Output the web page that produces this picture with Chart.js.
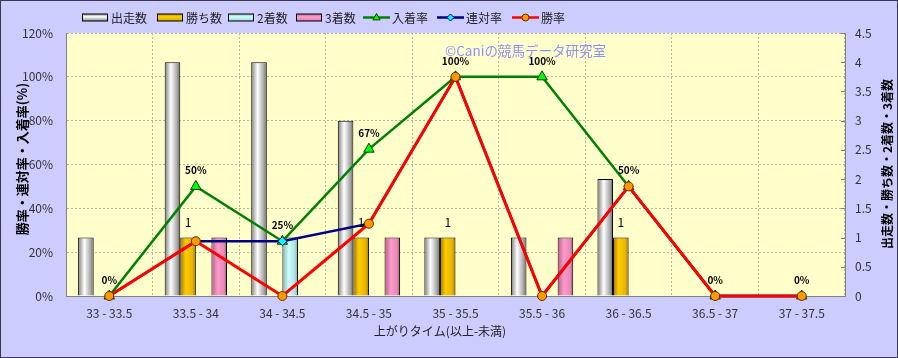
<!DOCTYPE html>
<html><head><meta charset="utf-8">
<script src="https://cdn.jsdelivr.net/npm/chart.js@4/dist/chart.umd.min.js"></script>
<style>html,body{margin:0;padding:0;background:#ccccff;overflow:hidden}canvas{display:block}</style>
</head><body>
<canvas id="c" width="898" height="358"></canvas>
<script>
// ---- data ----
const categories = ['33 - 33.5','33.5 - 34','34 - 34.5','34.5 - 35','35 - 35.5','35.5 - 36','36 - 36.5','36.5 - 37','37 - 37.5'];
const runs    = [1, 4, 4, 3, 1, 1, 2, 0, 0];
const wins    = [0, 1, 0, 1, 1, 0, 1, 0, 0];
const seconds = [0, 0, 1, 0, 0, 0, 0, 0, 0];
const thirds  = [0, 1, 0, 1, 0, 1, 0, 0, 0];
const placeRate    = [0, 50, 25, 67, 100, 100, 50, 0, 0];
const quinellaRate = [0, 25, 25, 33, 100, 0, 50, 0, 0];
const winRate      = [0, 25, 0, 33, 100, 0, 50, 0, 0];
const leftTicks  = {min: 0, max: 120, step: 20};
const rightTicks = {min: 0, max: 4.5, step: 0.5};

const FONT = "'Noto Sans CJK JP', 'DejaVu Sans', sans-serif";
const CAT_PCT = 0.72;
const NBARS = 4;

const barStops = [
  [[0,'#7a7a7a'],[0.4,'#ffffff'],[0.8,'#a8a8a8'],[1,'#666666']],
  [[0,'#a07400'],[0.35,'#ffcc00'],[0.8,'#e6b400'],[1,'#966a00']],
  [[0,'#88b0b0'],[0.4,'#ccffff'],[0.8,'#b0e0e0'],[1,'#80a0a0']],
  [[0,'#b06088'],[0.4,'#ff99cc'],[0.8,'#e88ab8'],[1,'#a05878']]
];

function barFill(k) {
  return (c) => {
    const chart = c.chart;
    const xs = chart.scales && chart.scales.x;
    const plain = barStops[k][1][1];
    if (c.type !== 'data' || !xs) return plain;
    const center = xs.getPixelForValue(c.dataIndex);
    const catW = (xs.right - xs.left) / categories.length;
    if (!isFinite(center) || !isFinite(catW) || catW <= 0) return plain;
    const groupW = catW * CAT_PCT;
    const bw = groupW / NBARS;
    const left = center - groupW / 2 + k * bw;
    if (!isFinite(left) || !isFinite(bw)) return plain;
    const g = chart.ctx.createLinearGradient(left, 0, left + bw, 0);
    barStops[k].forEach(s => g.addColorStop(s[0], s[1]));
    return g;
  };
}

function drawMarker(ctx, style, x, y, r, fill, stroke) {
  ctx.save();
  ctx.fillStyle = fill; ctx.strokeStyle = stroke; ctx.lineWidth = 1;
  ctx.beginPath();
  if (style === 'triangle') {
    ctx.moveTo(x, y - r);
    ctx.lineTo(x + r * 0.9, y + r * 0.6);
    ctx.lineTo(x - r * 0.9, y + r * 0.6);
    ctx.closePath();
  } else if (style === 'rectRot') {
    ctx.moveTo(x, y - r); ctx.lineTo(x + r, y); ctx.lineTo(x, y + r); ctx.lineTo(x - r, y); ctx.closePath();
  } else {
    ctx.arc(x, y, r, 0, Math.PI * 2);
  }
  ctx.fill(); ctx.stroke();
  ctx.restore();
}

const legendDefs = [
  {label: '出走数', kind: 'bar', k: 0},
  {label: '勝ち数', kind: 'bar', k: 1},
  {label: '2着数', kind: 'bar', k: 2},
  {label: '3着数', kind: 'bar', k: 3},
  {label: '入着率', kind: 'line', color: '#008000', style: 'triangle', fill: '#00ff00', stroke: '#004000', r: 4},
  {label: '連対率', kind: 'line', color: '#000080', style: 'rectRot', fill: '#00ffff', stroke: '#000080', r: 3.5},
  {label: '勝率', kind: 'line', color: '#ff0000', style: 'circle', fill: '#ff9900', stroke: '#603000', r: 3.5}
];
const legendX = [82, 157, 228, 296, 363, 437, 512];

const decor = {
  id: 'decor',
  beforeDraw(chart) {
    const {ctx, chartArea: a, width, height} = chart;
    ctx.save();
    ctx.fillStyle = '#ccccff'; ctx.fillRect(0, 0, width, height);
    ctx.fillStyle = '#ffffcc'; ctx.fillRect(a.left, a.top, a.right - a.left, a.bottom - a.top);
    ctx.restore();
  },
  beforeDatasetsDraw(chart) {
    const ctx = chart.ctx;
    ctx.save();
    ctx.font = '13.5px ' + FONT;
    ctx.fillStyle = '#8f8fff';
    ctx.textAlign = 'left'; ctx.textBaseline = 'middle';
    ctx.fillText('©Caniの競馬データ研究室', 445, 51);
    ctx.restore();
  },
  afterDatasetsDraw(chart) {
    const ctx = chart.ctx;
    ctx.save();
    ctx.fillStyle = '#000';
    ctx.textAlign = 'center'; ctx.textBaseline = 'middle';
    ctx.font = 'bold 10px ' + FONT;
    const pm = chart.getDatasetMeta(4);
    pm.data.forEach((el, i) => {
      ctx.fillText(placeRate[i] + '%', el.x, el.y - 16);
    });
    ctx.font = '12px ' + FONT;
    const wm = chart.getDatasetMeta(1);
    wm.data.forEach((el, i) => {
      if (wins[i] > 0) ctx.fillText(String(wins[i]), el.x, el.y - 15);
    });
    ctx.restore();
  },
  afterDraw(chart) {
    const {ctx, width, height} = chart;
    ctx.save();
    // small inward tick marks on the right axis
    const r = chart.scales.y1;
    ctx.strokeStyle = '#808080'; ctx.lineWidth = 1;
    r.ticks.forEach(t => {
      const py = Math.round(r.getPixelForValue(t.value)) + 0.5;
      ctx.beginPath(); ctx.moveTo(r.left - 4, py); ctx.lineTo(r.left, py); ctx.stroke();
    });
    ctx.font = '12px ' + FONT;
    ctx.textBaseline = 'middle'; ctx.textAlign = 'left';
    const ly = 17.5;
    legendDefs.forEach((d, i) => {
      const x = legendX[i];
      if (d.kind === 'bar') {
        const g = ctx.createLinearGradient(0, ly - 4, 0, ly + 4);
        barStops[d.k].forEach(s => g.addColorStop(s[0], s[1]));
        ctx.fillStyle = g;
        ctx.fillRect(x, ly - 3.5, 26, 7);
        ctx.strokeStyle = '#000'; ctx.lineWidth = 1;
        ctx.strokeRect(x + 0.5, ly - 3.5, 25, 7);
      } else {
        ctx.strokeStyle = d.color; ctx.lineWidth = 2.5;
        ctx.beginPath(); ctx.moveTo(x, ly); ctx.lineTo(x + 27, ly); ctx.stroke();
        drawMarker(ctx, d.style, x + 13.5, ly, d.r, d.fill, d.stroke);
      }
      ctx.fillStyle = '#222';
      ctx.fillText(d.label, x + 29, ly + 0.5);
    });
    ctx.fillStyle = '#000';
    ctx.textAlign = 'center';
    ctx.save();
    ctx.translate(22, 159); ctx.rotate(-Math.PI / 2);
    ctx.font = 'bold 13px ' + FONT;
    ctx.fillText('勝率・連対率・入着率(%)', 0, 0);
    ctx.restore();
    ctx.save();
    ctx.translate(887, 164); ctx.rotate(-Math.PI / 2);
    ctx.font = 'bold 12px ' + FONT;
    ctx.fillText('出走数・勝ち数・2着数・3着数', 0, 0);
    ctx.restore();
    ctx.font = '12px ' + FONT;
    ctx.fillStyle = '#222';
    ctx.fillText('上がりタイム(以上-未満)', 440, 331);
    ctx.strokeStyle = '#3a3a4a'; ctx.lineWidth = 1;
    ctx.strokeRect(0.5, 0.5, width - 1, height - 1);
    ctx.restore();
  }
};

const barDs = (label, data, k) => ({
  type: 'bar', label, data, yAxisID: 'y1', order: 10,
  backgroundColor: barFill(k), borderColor: '#000', borderWidth: 1,
  barPercentage: 1, categoryPercentage: CAT_PCT
});

new Chart(document.getElementById('c'), {
  data: {
    labels: categories,
    datasets: [
      barDs('出走数', runs, 0),
      barDs('勝ち数', wins, 1),
      barDs('2着数', seconds, 2),
      barDs('3着数', thirds, 3),
      {type: 'line', label: '入着率', data: placeRate, yAxisID: 'y', order: 3, clip: false,
       borderColor: '#008000', borderWidth: 2.5, pointStyle: 'triangle', pointRadius: 6,
       pointBackgroundColor: '#00ff00', pointBorderColor: '#004000', pointBorderWidth: 1, tension: 0},
      {type: 'line', label: '連対率', data: quinellaRate, yAxisID: 'y', order: 2, clip: false,
       borderColor: '#000080', borderWidth: 2.5, pointStyle: 'rectRot', pointRadius: 4.5,
       pointBackgroundColor: '#00ffff', pointBorderColor: '#000080', pointBorderWidth: 1, tension: 0},
      {type: 'line', label: '勝率', data: winRate, yAxisID: 'y', order: 1, clip: false,
       borderColor: '#ff0000', borderWidth: 3, pointStyle: 'circle', pointRadius: 4.5,
       pointBackgroundColor: '#ff9900', pointBorderColor: '#603000', pointBorderWidth: 1, tension: 0}
    ]
  },
  options: {
    responsive: false, animation: false, devicePixelRatio: 1,
    layout: {padding: {top: 33, left: 0, right: 0, bottom: 0}},
    font: {family: FONT},
    plugins: {legend: {display: false}, tooltip: {enabled: false}},
    scales: {
      x: {
        type: 'category', offset: true,
        grid: {offset: true, color: '#b4b4a0', drawTicks: false},
        border: {display: true, color: '#808080', width: 1, dash: [2, 2]},
        ticks: {padding: 10, color: '#333', font: {size: 12, family: FONT}, maxRotation: 0, autoSkip: false},
        afterFit(s) { s.height = 62; }
      },
      y: {
        position: 'left', min: leftTicks.min, max: leftTicks.max,
        grid: {color: '#b4b4a0', drawTicks: false},
        border: {display: true, color: '#808080', width: 1, dash: [2, 2]},
        ticks: {stepSize: leftTicks.step, padding: 13, color: '#333', font: {size: 12, family: FONT},
                callback: v => v + '%'},
        afterFit(s) { s.width = 66; }
      },
      y1: {
        position: 'right', min: rightTicks.min, max: rightTicks.max,
        grid: {drawOnChartArea: false, drawTicks: false},
        border: {display: true, color: '#808080', width: 1},
        ticks: {stepSize: rightTicks.step, padding: 10, color: '#333', font: {size: 12, family: FONT},
                callback: v => String(Math.round(v * 10) / 10)},
        afterFit(s) { s.width = 53; }
      }
    }
  },
  plugins: [decor]
});
</script>
</body></html>
